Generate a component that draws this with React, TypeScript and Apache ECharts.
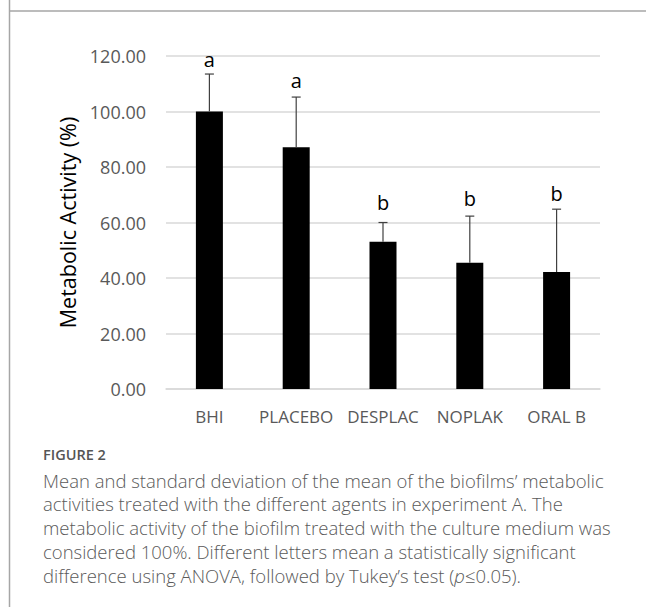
import React, { useEffect, useRef } from "react";
import * as echarts from "echarts";

const categories = ["BHI", "PLACEBO", "DESPLAC", "NOPLAK", "ORAL B"];
const means = [100.0, 87.1, 53.1, 45.5, 42.2];
const sdUpper = [113.5, 105.2, 60.0, 62.3, 64.8];
const letters = ["a", "a", "b", "b", "b"];
const letterY = [118.9, 111.2, 67.3, 68.5, 70.3];
const yTicks = [0, 20, 40, 60, 80, 100, 120];

const captionTitle = "FIGURE 2";
const captionLines = [
  "Mean and standard deviation of the mean of the biofilms\u2019 metabolic",
  "activities treated with the different agents in experiment A. The",
  "metabolic activity of the biofilm treated with the culture medium was",
  "considered 100%. Different letters mean a statistically significant",
  "difference using ANOVA, followed by Tukey\u2019s test ({i|p}\u22640.05).",
];

export default function App() {
  const ref = useRef<HTMLDivElement>(null);
  useEffect(() => {
    const chart = echarts.init(ref.current!, undefined, { renderer: "svg" });
    const font = "'Open Sans', sans-serif";
    const capFont = "'Open Sans', sans-serif";
    const lineTops = [480, 503, 527, 551, 575];
    const graphics: any[] = [
      { type: "line", shape: { x1: 9.5, y1: 0, x2: 9.5, y2: 607 }, style: { stroke: "#a6a6a6", lineWidth: 1.5 } },
      { type: "line", shape: { x1: 9, y1: 11, x2: 646, y2: 11 }, style: { stroke: "#a6a6a6", lineWidth: 1.5 } },
      {
        type: "text",
        left: 43,
        top: 447,
        style: { text: captionTitle, fontFamily: capFont, fontSize: 14.5, fontWeight: 600, fill: "#555555" },
      },
    ];
    captionLines.forEach((t, i) => {
      graphics.push({
        type: "text",
        x: 43,
        y: lineTops[i],
        style: {
          text: t,
          fontFamily: capFont,
          fontSize: 18.5,
          fontWeight: 300,
          fill: "#5a5a5a",
          textVerticalAlign: "middle",
          rich: {
            i: { fontFamily: capFont, fontSize: 18.5, fontWeight: 300, fontStyle: "italic", fill: "#5a5a5a" },
          },
        },
      });
    });
    chart.setOption({
      animation: false,
      grid: { left: 166, right: 46, top: 56, bottom: 218, containLabel: false },
      xAxis: {
        type: "category",
        data: categories,
        axisLine: { lineStyle: { color: "#d9d9d9", width: 1.5 } },
        axisTick: { show: false },
        axisLabel: { color: "#595959", fontSize: 17, fontFamily: font, margin: 19, interval: 0 },
      },
      yAxis: {
        type: "value",
        min: 0,
        max: 120,
        interval: 20,
        name: "Metabolic Activity (%)",
        nameLocation: "middle",
        nameGap: 78,
        nameRotate: 90,
        nameTextStyle: { color: "#000000", fontSize: 21.5, fontFamily: font },
        axisLine: { show: false },
        axisTick: { show: false },
        splitLine: { lineStyle: { color: "#d9d9d9", width: 1.5 } },
        axisLabel: {
          color: "#595959",
          fontSize: 18,
          fontFamily: font,
          margin: 20,
          formatter: (v: number) => (yTicks.includes(v) ? v.toFixed(2) : ""),
        },
      },
      series: [
        {
          type: "bar",
          data: means,
          barWidth: 27,
          itemStyle: { color: "#000000" },
          z: 2,
        },
        {
          type: "custom",
          z: 3,
          data: means.map((m, i) => [i, m, sdUpper[i], letterY[i]]),
          renderItem: (params: any, api: any) => {
            const i = api.value(0);
            const base = api.coord([i, api.value(1)]);
            const top = api.coord([i, api.value(2)]);
            const lp = api.coord([i, api.value(3)]);
            const half = 4.5;
            const st = { stroke: "#404040", lineWidth: 1.2 };
            return {
              type: "group",
              children: [
                { type: "line", shape: { x1: base[0], y1: base[1], x2: top[0], y2: top[1] }, style: st },
                { type: "line", shape: { x1: top[0] - half, y1: top[1], x2: top[0] + half, y2: top[1] }, style: st },
                {
                  type: "text",
                  x: lp[0],
                  y: lp[1],
                  style: {
                    text: letters[params.dataIndex],
                    fontFamily: font,
                    fontSize: 20,
                    fill: "#000000",
                    textAlign: "center",
                    textVerticalAlign: "middle",
                  },
                },
              ],
            };
          },
        },
      ],
      graphic: graphics,
    });
    return () => chart.dispose();
  }, []);
  return <div ref={ref} style={{ width: 646, height: 607, position: "absolute", left: 0, top: 0 }} />;
}
